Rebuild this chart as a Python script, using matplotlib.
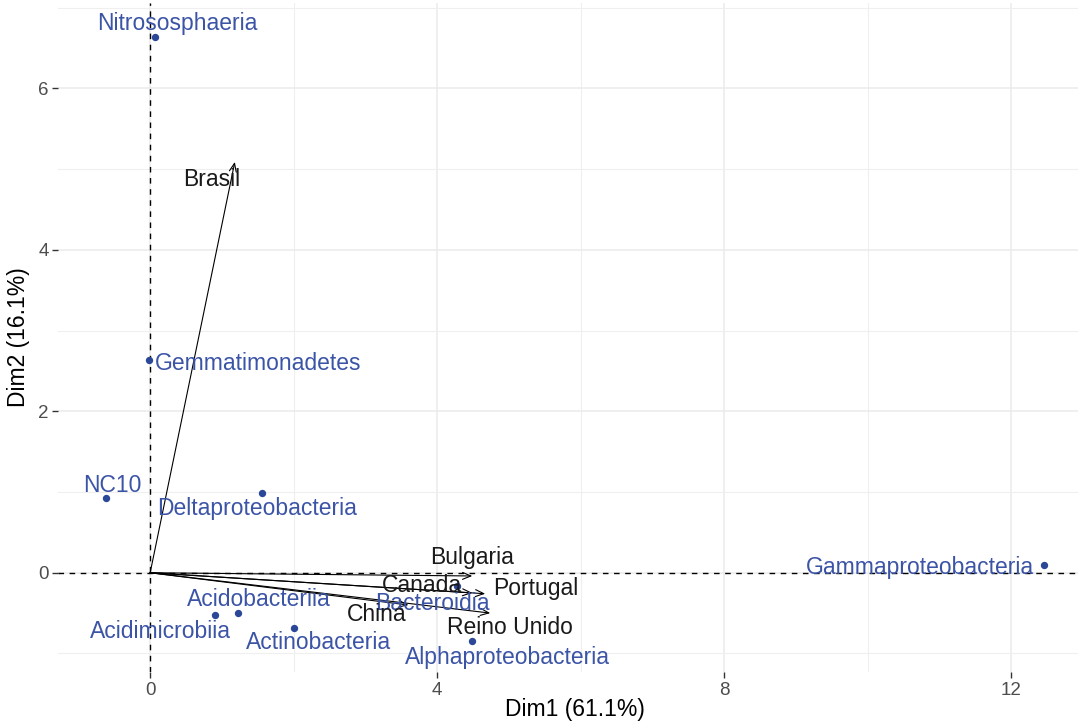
import numpy as np
import matplotlib
matplotlib.use('Agg')
import matplotlib.pyplot as plt

plt.rcParams['font.family'] = ['Liberation Sans', 'DejaVu Sans']

# row points (classes)
classes = ['Nitrososphaeria', 'Gemmatimonadetes', 'NC10', 'Deltaproteobacteria',
           'Gammaproteobacteria', 'Bacteroidia', 'Acidobacteriia', 'Acidimicrobiia',
           'Actinobacteria', 'Alphaproteobacteria']
class_x = [0.07, -0.01, -0.61, 1.56, 12.46, 4.28, 1.23, 0.91, 2.01, 4.49]
class_y = [6.64, 2.64, 0.92, 0.99, 0.10, -0.16, -0.50, -0.52, -0.68, -0.84]
# repelled label positions
class_lx = [0.38, 1.51, -0.53, 1.49, 10.73, 3.93, 1.51, 0.14, 2.34, 4.98]
class_ly = [6.80, 2.59, 1.08, 0.79, 0.07, -0.38, -0.33, -0.73, -0.87, -1.05]

# column arrows (countries)
countries = ['Brasil', 'Bulgaria', 'Canada', 'Portugal', 'China', 'Reino Unido']
country_x = [1.18, 4.49, 4.49, 4.67, 3.60, 4.74]
country_y = [5.09, -0.04, -0.25, -0.26, -0.40, -0.50]
country_lx = [0.86, 4.49, 3.79, 5.37, 3.16, 5.02]
country_ly = [4.87, 0.19, -0.16, -0.20, -0.52, -0.68]

xlim = (-1.28, 12.93)
ylim = (-1.23, 7.06)

fig = plt.figure(figsize=(10.8, 7.23), dpi=100)
ax = fig.add_axes([0.054, 0.0705, 0.944, 0.9255])

ax.set_xlim(xlim)
ax.set_ylim(ylim)

ax.set_xticks([0, 4, 8, 12])
ax.set_yticks([0, 2, 4, 6])
ax.set_xticks([2, 6, 10], minor=True)
ax.set_yticks([-1, 1, 3, 5, 7], minor=True)
ax.grid(True, which='major', color='#EBEBEB', lw=1.1, zorder=0)
ax.grid(True, which='minor', color='#EFEFEF', lw=0.8, zorder=0)
ax.set_axisbelow(True)
for s in ax.spines.values():
    s.set_visible(False)
ax.tick_params(which='major', length=4, width=1, color='#333333',
               labelcolor='#4D4D4D', labelsize=13.5, pad=3)
ax.tick_params(which='minor', length=0)

ax.axhline(0, color='black', ls=(0, (4, 4)), lw=1.0, zorder=1)
ax.axvline(0, color='black', ls=(0, (4, 4)), lw=1.0, zorder=1)

pt_col = '#2B4797'
txt_col = '#3B54A6'
ax.scatter(class_x, class_y, s=28, color=pt_col, zorder=3, linewidths=0)
for name, lx, ly in zip(classes, class_lx, class_ly):
    ax.text(lx, ly, name, color=txt_col, fontsize=16.5, ha='center', va='center', zorder=4)

for name, cx, cy, lx, ly in zip(countries, country_x, country_y, country_lx, country_ly):
    ax.annotate('', xy=(cx, cy), xytext=(0, 0),
                arrowprops=dict(arrowstyle='->,head_length=0.6,head_width=0.25',
                                color='black', lw=0.8, shrinkA=0, shrinkB=0),
                zorder=2)
    ax.text(lx, ly, name, color='#1A1A1A', fontsize=16.5, ha='center', va='center', zorder=4)

ax.set_ylabel('Dim2 (16.1%)', fontsize=16.5, labelpad=6)
# x title placed in figure coords so it stays inside the canvas
fig.text(0.532, 0.018, 'Dim1 (61.1%)', fontsize=16.5, ha='center', va='center')

fig.savefig('out.png', dpi=100)
